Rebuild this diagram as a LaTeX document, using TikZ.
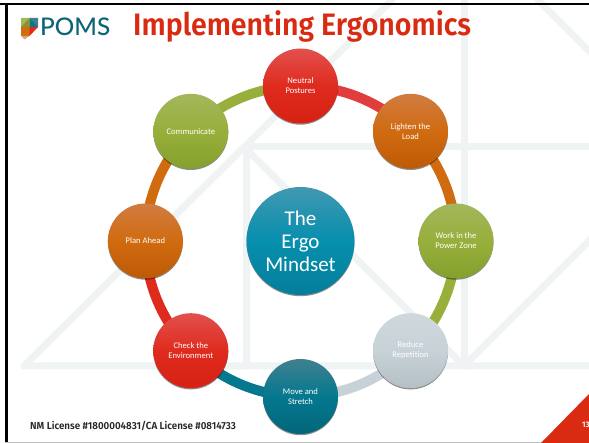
\documentclass[tikz,border=0pt]{standalone}
\usepackage{fontspec}
\setmainfont{Carlito}
\newfontfamily\titlefont[FakeStretch=.92]{Fira Sans SemiBold}
\newfontfamily\logofont{Lato Medium}
\newfontfamily\footfont[FakeStretch=.96]{Fira Sans SemiBold}
\usetikzlibrary{shadows}
\pgfdeclarelayer{paper}\pgfdeclarelayer{bglines}\pgfdeclarelayer{conn}
\pgfsetlayers{paper,bglines,conn,main}
\definecolor{bgl}{HTML}{EFF3F4}
\definecolor{titlered}{HTML}{D92B12}
\definecolor{logoteal}{HTML}{0B6577}
\definecolor{rT}{HTML}{E2504E}\definecolor{rM}{HTML}{DF2B1D}\definecolor{rB}{HTML}{D62113}
\definecolor{oT}{HTML}{D17C42}\definecolor{oM}{HTML}{D06B10}\definecolor{oB}{HTML}{BE5A06}
\definecolor{gT}{HTML}{A2B75C}\definecolor{gM}{HTML}{98AF3B}\definecolor{gB}{HTML}{84A02D}
\definecolor{sT}{HTML}{CFD8DC}\definecolor{sM}{HTML}{C7D2D8}\definecolor{sB}{HTML}{B5C0C5}
\definecolor{tT}{HTML}{40808F}\definecolor{tM}{HTML}{04788F}\definecolor{tB}{HTML}{03667A}
\definecolor{cT}{HTML}{4298B1}\definecolor{cM}{HTML}{068FAE}\definecolor{cB}{HTML}{047E9A}
\definecolor{lightred}{HTML}{E23C3C}
\tikzset{
  x=1pt,y=-1pt,
  bgline/.style={draw=bgl,line width=7pt,line cap=round},
  ball/.style={circle,minimum size=75pt,inner sep=0pt,text=white,align=center,
    font=\fontsize{8.6}{10}\selectfont,
    drop shadow={shadow xshift=0pt,shadow yshift=-1.2pt,fill=black,opacity=.45}},
  redball/.style={ball,top color=rT,bottom color=rB,middle color=rM},
  orangeball/.style={ball,top color=oT,bottom color=oB,middle color=oM},
  greenball/.style={ball,top color=gT,bottom color=gB,middle color=gM},
  silverball/.style={ball,top color=sT,bottom color=sB,middle color=sM},
  tealball/.style={ball,top color=tT,bottom color=tB,middle color=tM},
  link/.style={line width=10pt,looseness=.886},
}
\begin{document}
\begin{tikzpicture}
\useasboundingbox (0,0) rectangle (589,443);
\begin{pgfonlayer}{paper}
\fill[white] (0,0) rectangle (589,443);
\end{pgfonlayer}
\begin{pgfonlayer}{bglines}
\begin{scope}
\clip (0,0) rectangle (589,443);
\draw[bgline,line join=round] (600,366) -- (24,366) -- (392,0);
\draw[bgline] (246,150) -- (246,366);
\draw[bgline] (246,146.5) -- (600,146.5);
\draw[bgline] (464,0) -- (464,366);
\draw[bgline] (249,152) -- (462,364);
\draw[bgline] (466,364) -- (600,230);
\draw[bgline] (538,0) -- (600,62);
\end{scope}
\end{pgfonlayer}
% frame
\fill[black] (0,3) rectangle (589,5.5);
\fill[black] (5,3) rectangle (8,443);
\fill[black!25] (5,441.8) rectangle (589,443);
% logo
\fill[gM!85!black] (21,18) rectangle (29.5,27);
\fill[tM] (29.5,18) rectangle (38,27);
\fill[gT] (21,18) -- (29.5,18) -- (21,27) -- cycle;
\fill[tT] (38,18) -- (29.5,18) -- (38,27) -- cycle;
\fill[oM] (21,27) rectangle (29.5,36);
\fill[rM] (29.5,27) -- (38,27) -- (29.5,36) -- cycle;
\fill[oT!70!white] (21,36) -- (29.5,36) -- (24.5,39.5) -- cycle;
\node[font=\logofont\fontsize{24.3}{25}\selectfont,text=logoteal,anchor=base west,inner sep=0pt] (logo) at (40,35.5) {POMS};
% title
\node[font=\titlefont\fontsize{31}{31}\selectfont,text=titlered,anchor=base west,inner sep=0pt] (title) at (133,36) {Implementing Ergonomics};
% balls
\node[redball] (neutral) at (300.5,86) {Neutral\\Postures};
\node[orangeball] (lighten) at (410.5,131.3) {Lighten the\\Load};
\node[greenball] (work) at (456,241) {Work in the\\Power Zone};
\node[silverball] (reduce) at (410.5,350.7) {Reduce\\Repetition};
\node[tealball] (move) at (300.5,396.5) {Move and\\Stretch};
\node[redball] (check) at (190.8,350.7) {Check the\\Environment};
\node[orangeball] (plan) at (145.4,241) {Plan Ahead};
\node[greenball] (comm) at (190.8,131.3) {Communicate};
\node[ball,minimum size=108pt,top color=cT,bottom color=cB,middle color=cM,
  font=\fontsize{21}{23}\selectfont] (center) at (300.5,241) {The\\Ergo\\Mindset};
% links
\begin{pgfonlayer}{conn}
\draw[link,lightred] (neutral.center) to[bend left=22.5] (lighten.center);
\draw[link,oM] (lighten.center) to[bend left=22.5] (work.center);
\draw[link,gM] (work.center) to[bend left=22.5] (reduce.center);
\draw[link,sM] (reduce.center) to[bend left=22.5] (move.center);
\draw[link,tM] (move.center) to[bend left=22.5] (check.center);
\draw[link,rM] (check.center) to[bend left=22.5] (plan.center);
\draw[link,oM] (plan.center) to[bend left=22.5] (comm.center);
\draw[link,gM] (comm.center) to[bend left=22.5] (neutral.center);
\end{pgfonlayer}
% footer
\node[font=\footfont\fontsize{10.2}{12}\selectfont,text=black!85,anchor=base west,inner sep=0pt] (license) at (30,429.5) {NM License \#1800004831/CA License \#0814733};
% corner
\fill[titlered] (541,443) -- (589,394) -- (589,443) -- cycle;
\begin{scope}
\clip (0,0) rectangle (589,443);
\node[font=\footfont\fontsize{8}{9}\selectfont,text=white,anchor=base west,inner sep=0pt] (pagenum) at (582,428) {13};
\end{scope}
\end{tikzpicture}
\end{document}
